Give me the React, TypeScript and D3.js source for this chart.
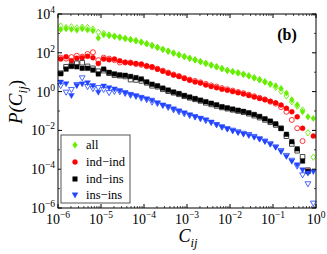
import React from 'react';
import * as d3 from 'd3';

// log-bin centres: 8 bins per decade between 1e-6 and 1
const binCount = 48;
const xValues = d3.range(binCount).map((k) => Math.pow(10, -6 + (k + 0.5) / 8));

// log10 P(C_ij) values (null = no point)
const allFilled = [3.20, 3.24, 3.21, 3.17, 3.24, 3.18, 3.14, 2.76, 2.93, 2.88, 2.84, 2.80, 2.74, 2.68, 2.62, 2.55, 2.46, 2.37, 2.27, 2.18, 2.08, 1.98, 1.89, 1.80, 1.72, 1.63, 1.54, 1.45, 1.36, 1.27, 1.18, 1.08, 1.02, 0.96, 0.88, 0.80, 0.70, 0.60, 0.50, 0.40, 0.30, 0.16, -0.08, -0.42, -0.68, -1.04, -1.30, -1.38];
const allOpen = [3.38, 3.30, 3.34, 3.28, 3.32, 3.30, 3.22, 3.06, 3.00, 2.92, 2.86, 2.80, 2.74, 2.68, 2.62, 2.55, 2.47, 2.38, 2.28, 2.18, 2.09, 1.99, 1.90, 1.81, 1.72, 1.64, 1.55, 1.46, 1.37, 1.28, 1.19, 1.10, 1.03, 0.97, 0.90, 0.82, 0.72, 0.62, 0.50, 0.38, 0.22, 0.02, -0.22, -0.52, -0.75, -0.95, -2.12, -3.38];
const indIndFilled = [1.68, 1.80, 1.59, 1.72, 1.75, 1.82, 1.75, 1.45, 1.68, 1.64, 1.68, 1.59, 1.51, 1.48, 1.45, 1.42, 1.33, 1.28, 1.15, 1.05, 0.95, 0.85, 0.78, 0.68, 0.58, 0.50, 0.44, 0.34, 0.26, 0.20, 0.12, 0.07, 0.00, -0.06, -0.12, -0.20, -0.28, -0.35, -0.42, -0.50, -0.58, -0.69, -0.86, -1.04, -1.30, -1.89, -4.10, -2.29];
const indIndOpen = [1.75, 1.70, 1.78, 1.85, 1.80, 1.94, 2.03, 1.62, 1.75, 1.70, 1.62, 1.50, 1.50, 1.50, 1.42, 1.38, 1.30, 1.25, 1.18, 1.08, 0.98, 0.88, 0.80, 0.70, 0.62, 0.55, 0.48, 0.40, 0.32, 0.26, 0.18, 0.12, 0.05, -0.02, -0.08, -0.16, -0.24, -0.32, -0.40, -0.52, -0.62, -0.80, -1.04, -1.46, -1.89, -2.55, null, null];
const indInsFilled = [0.92, 1.16, 1.30, 1.28, 1.20, 1.20, 1.11, 0.91, 1.16, 0.99, 0.91, 0.86, 0.84, 0.78, 0.72, 0.65, 0.50, 0.38, 0.30, 0.18, 0.08, -0.02, -0.10, -0.20, -0.28, -0.36, -0.44, -0.52, -0.60, -0.68, -0.78, -0.84, -0.90, -0.96, -1.02, -1.09, -1.18, -1.28, -1.40, -1.52, -1.66, -1.90, -2.20, -2.58, -2.95, -3.58, -4.12, null];
const indInsOpen = [0.95, 1.28, 1.35, 1.46, 1.49, 1.30, 1.20, 1.05, 1.08, 0.95, 0.85, 0.82, 0.78, 0.62, 0.60, 0.55, 0.45, 0.30, 0.25, 0.12, 0.02, -0.06, -0.14, -0.24, -0.32, -0.40, -0.48, -0.58, -0.66, -0.74, -0.82, -0.88, -0.94, -1.00, -1.06, -1.14, -1.24, -1.34, -1.46, -1.58, -1.72, -1.89, -2.30, -2.70, -3.05, -3.36, -4.05, null];
const insInsFilled = [0.48, 0.40, -0.21, 0.30, 0.39, 0.45, 0.30, -0.04, 0.28, 0.19, 0.13, 0.05, -0.06, -0.15, -0.22, -0.30, -0.38, -0.45, -0.58, -0.70, -0.78, -0.90, -1.00, -1.10, -1.20, -1.30, -1.38, -1.46, -1.58, -1.70, -1.82, -1.94, -2.03, -2.12, -2.20, -2.27, -2.36, -2.46, -2.58, -2.72, -2.88, -3.10, -3.35, -3.60, -3.78, -4.04, -4.21, -4.13];
const insInsOpen = [0.30, -0.04, 0.10, 0.35, 0.70, 0.25, 0.15, 0.20, 0.10, -0.06, 0.00, -0.02, -0.10, -0.20, -0.25, -0.35, -0.42, -0.55, -0.62, -0.72, -0.82, -0.95, -1.05, -1.15, -1.24, -1.32, -1.40, -1.50, -1.60, -1.72, -1.84, -1.92, -2.00, -2.08, -2.16, -2.22, -2.32, -2.44, -2.56, -2.70, -2.86, -3.05, -3.30, -3.55, -3.85, -4.30, -4.76, -5.76];

const seriesNames = ['all', 'ind\u2212ind', 'ind\u2212ins', 'ins\u2212ins'];
const xTickExps = [-6, -5, -4, -3, -2, -1, 0];
const yTickExps = [-6, -4, -2, 0, 2, 4];

type Shape = 'diamond' | 'circle' | 'square' | 'triangle';

const seriesDefs: { name: string; filled: (number | null)[]; open: (number | null)[]; color: string; openColor: string; shape: Shape }[] = [
  { name: seriesNames[0], filled: allFilled, open: allOpen, color: '#66ee00', openColor: '#66ee00', shape: 'diamond' },
  { name: seriesNames[1], filled: indIndFilled, open: indIndOpen, color: '#ff0000', openColor: '#ff2020', shape: 'circle' },
  { name: seriesNames[2], filled: indInsFilled, open: indInsOpen, color: '#000000', openColor: '#333333', shape: 'square' },
  { name: seriesNames[3], filled: insInsFilled, open: insInsOpen, color: '#2244ff', openColor: '#3355ff', shape: 'triangle' },
];

function markerPath(shape: Shape): string {
  switch (shape) {
    case 'diamond':
      return 'M0,-3.2L2.4,0L0,3.2L-2.4,0Z';
    case 'circle':
      return 'M2.5,0A2.5,2.5,0,1,1,-2.5,0A2.5,2.5,0,1,1,2.5,0Z';
    case 'square':
      return 'M-2.3,-2.3L2.3,-2.3L2.3,2.3L-2.3,2.3Z';
    case 'triangle':
      return 'M-2.9,-2.2L2.9,-2.2L0,2.9Z';
  }
}

const L = 58, R = 316, T = 14, B = 208;
const FONT = '"Liberation Serif", "Times New Roman", serif';

export default function App() {
  const x = d3.scaleLog().domain([1e-6, 1]).range([L, R]);
  const y = d3.scaleLog().domain([1e-6, 1e4]).range([B, T]);

  const minorX: number[] = [];
  for (let e = -6; e < 0; e++) {
    for (let m = 2; m <= 9; m++) minorX.push(m * Math.pow(10, e));
  }
  const minorY = [-5, -3, -1, 1, 3].map((e) => Math.pow(10, e));

  const legendY = [145, 162, 179, 195];

  return (
    <svg width={327} height={254} style={{ position: 'absolute', left: 0, top: 0 }} fontFamily={FONT}>
      <rect x={0} y={0} width={327} height={254} fill="#fff" />
      {/* data */}
      {seriesDefs.map((s, si) => (
        <g key={si}>
          {s.open.map((v, i) =>
            v === null ? null : (
              <path key={'o' + i} d={markerPath(s.shape)} transform={`translate(${x(xValues[i])},${y(Math.pow(10, v))})`} fill="none" stroke={s.openColor} strokeWidth={0.9} />
            )
          )}
          {s.filled.map((v, i) =>
            v === null ? null : (
              <path key={'f' + i} d={markerPath(s.shape)} transform={`translate(${x(xValues[i])},${y(Math.pow(10, v))})`} fill={s.color} stroke={s.color} strokeWidth={0.4} />
            )
          )}
        </g>
      ))}
      {/* frame */}
      <rect x={L} y={T} width={R - L} height={B - T} fill="none" stroke="#000" strokeWidth={1} />
      {/* x ticks */}
      {xTickExps.map((e) => {
        const px = x(Math.pow(10, e));
        return (
          <g key={'xt' + e}>
            <line x1={px} x2={px} y1={B} y2={B - 4} stroke="#000" />
            <line x1={px} x2={px} y1={T} y2={T + 4} stroke="#000" />
            <text x={px} y={224} textAnchor="middle" fontSize={14}>
              10<tspan dy={-6} fontSize={9.5}>{e < 0 ? '\u2212' + Math.abs(e) : String(e)}</tspan>
            </text>
          </g>
        );
      })}
      {minorX.map((v, i) => {
        const px = x(v);
        return (
          <g key={'xm' + i}>
            <line x1={px} x2={px} y1={B} y2={B - 2} stroke="#000" strokeWidth={0.7} />
            <line x1={px} x2={px} y1={T} y2={T + 2} stroke="#000" strokeWidth={0.7} />
          </g>
        );
      })}
      {/* y ticks */}
      {yTickExps.map((e) => {
        const py = y(Math.pow(10, e));
        return (
          <g key={'yt' + e}>
            <line x1={L} x2={L + 4} y1={py} y2={py} stroke="#000" />
            <line x1={R} x2={R - 4} y1={py} y2={py} stroke="#000" />
            <text x={55} y={py + 5} textAnchor="end" fontSize={14}>
              10<tspan dy={-6} fontSize={9.5}>{e < 0 ? '\u2212' + Math.abs(e) : String(e)}</tspan>
            </text>
          </g>
        );
      })}
      {minorY.map((v, i) => {
        const py = y(v);
        return (
          <g key={'ym' + i}>
            <line x1={L} x2={L + 2} y1={py} y2={py} stroke="#000" strokeWidth={0.7} />
            <line x1={R} x2={R - 2} y1={py} y2={py} stroke="#000" strokeWidth={0.7} />
          </g>
        );
      })}
      {/* axis labels */}
      <text x={188} y={242} textAnchor="middle" fontSize={18} fontStyle="italic">
        C<tspan dy={5} fontSize={12.5}>ij</tspan>
      </text>
      <text transform="translate(22,102) rotate(-90)" textAnchor="middle" fontSize={19} fontStyle="italic">
        P(C<tspan dy={5} fontSize={13}>ij</tspan><tspan dy={-5} fontStyle="normal">)</tspan>
      </text>
      {/* panel label */}
      <text x={287} y={40} textAnchor="middle" fontSize={16} fontWeight="bold">(b)</text>
      {/* legend */}
      <rect x={61} y={135} width={69} height={68} fill="#fff" stroke="#555" strokeWidth={1} />
      {seriesDefs.map((s, si) => (
        <g key={'lg' + si}>
          <path d={markerPath(s.shape)} transform={`translate(75,${legendY[si]})`} fill={s.color} stroke={s.color} strokeWidth={0.4} />
          <text x={86} y={legendY[si] + 4} fontSize={12.5}>{s.name}</text>
        </g>
      ))}
    </svg>
  );
}
